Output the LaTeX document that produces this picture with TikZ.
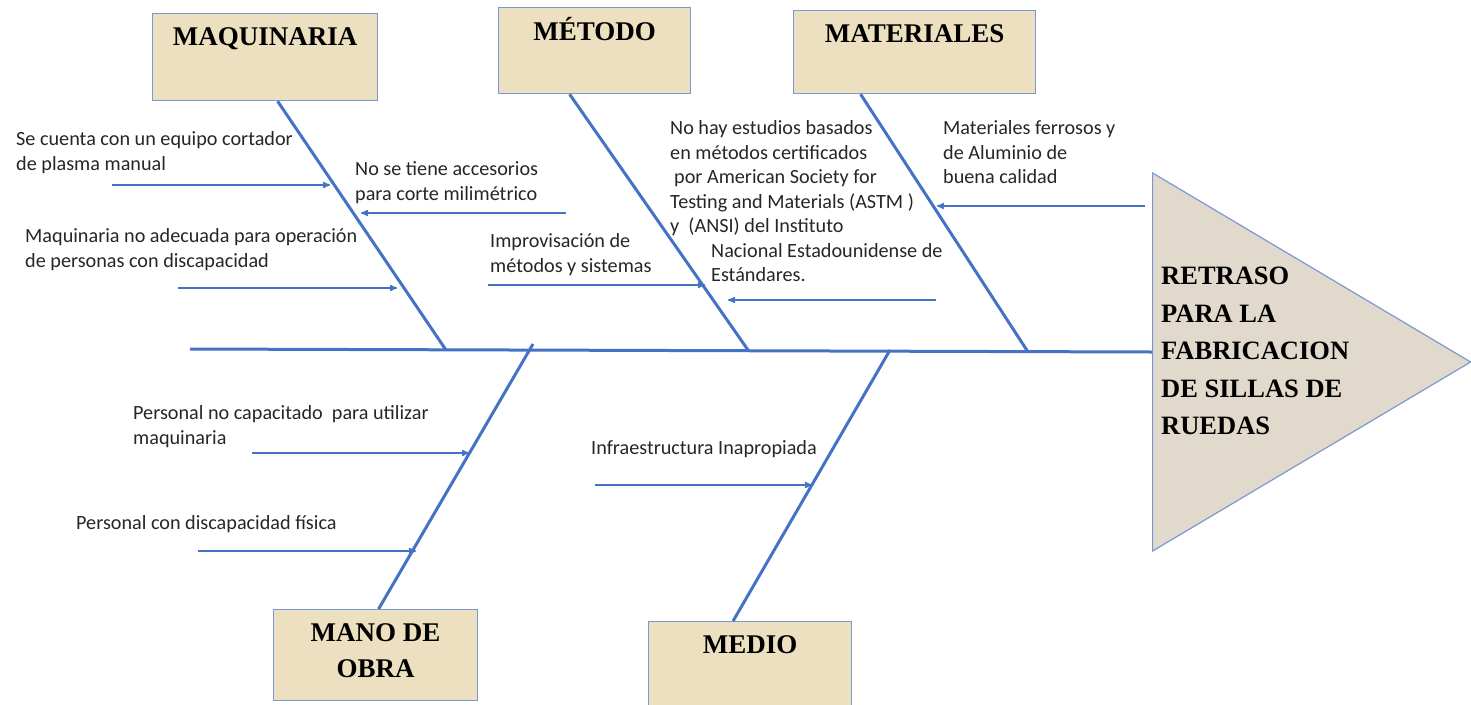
\documentclass[tikz,border=0pt]{standalone}
\usepackage{fontspec}
\setmainfont{Carlito}
\newfontfamily\catfont{Liberation Serif}
\usetikzlibrary{arrows, shapes.geometric}

\definecolor{bone}{RGB}{68,114,196}
\definecolor{frame}{RGB}{122,152,212}
\definecolor{parch}{RGB}{237,224,192}
\definecolor{stone}{RGB}{225,217,204}

\begin{document}
\begin{tikzpicture}[x=1pt,y=-1pt,>=stealth',
  cat box/.style={draw=frame,line width=1.2pt,fill=parch,anchor=north west,inner sep=0},
  cat text/.style={font=\catfont\bfseries\fontsize{27}{36}\selectfont,align=center,inner sep=0,anchor=north},
  cause/.style={font=\fontsize{20.2}{24.5}\selectfont,text=black!85,align=left,inner sep=0,anchor=north west},
  bone line/.style={draw=bone,line width=3pt},
  sub arrow/.style={->,color=bone,line width=1.5pt}]

  \path[use as bounding box] (0,0) rectangle (1471,704);

  % categories
  \node[cat box,minimum width=225,minimum height=87] (maq) at (152,13) {};
  \node[cat box,minimum width=192,minimum height=86] (met) at (498,7) {};
  \node[cat box,minimum width=242,minimum height=83] (mat) at (793,10) {};
  \node[cat box,minimum width=204,minimum height=91] (mano) at (273,609) {};
  \node[cat box,minimum width=203,minimum height=86] (med) at (648,621) {};

  \node[cat text] (maq-t) at ([yshift=-14]maq.north) {MAQUINARIA};
  \node[cat text] (met-t) at ([yshift=-10]met.north) {MÉTODO};
  \node[cat text] (mat-t) at ([yshift=-14]mat.north) {MATERIALES};
  \node[cat text] (mano-t) at ([yshift=-14]mano.north) {MANO DE\\OBRA};
  \node[cat text] (med-t) at ([yshift=-14]med.north) {MEDIO};

  % effect
  \node[isosceles triangle,isosceles triangle stretches,shape border rotate=0,
    minimum width=378,minimum height=318,inner sep=0,draw=frame,line width=1.2pt,
    fill=stone,anchor=west] (efecto) at (1152,362) {};
  \node[font=\catfont\bfseries\fontsize{26.5}{37.5}\selectfont,align=left,inner sep=0,
    anchor=west] (efecto-t) at ([xshift=9,yshift=11]efecto.west)
    {RETRASO\\PARA LA\\FABRICACION\\DE SILLAS DE\\RUEDAS};

  % spine and bones
  \coordinate (tail) at (190,349);
  \coordinate (j-maq) at (446,350);
  \coordinate (j-met) at (748,350);
  \coordinate (j-mat) at (1028,352);
  \coordinate (j-mano) at (533,344);
  \coordinate (j-med) at (890,350);

  \draw[bone line] (tail) -- ([yshift=10]efecto.west);
  \draw[bone line] ([xshift=12.5]maq.south) -- (j-maq);
  \draw[bone line] ([xshift=-25]met.south) -- (j-met);
  \draw[bone line] ([xshift=-54]mat.south) -- (j-mat);
  \draw[bone line] ([xshift=3]mano.north) -- (j-mano);
  \draw[bone line] ([xshift=-17]med.north) -- (j-med);

  % causes
  \node[cause] (c1) at (16,131.5) {Se cuenta con un equipo cortador\\de plasma manual};
  \node[cause] (c2) at (355,161.5) {No se tiene accesorios\\para corte milimétrico};
  \node[cause] (c3) at (25,228.5) {Maquinaria no adecuada para operación\\de personas con discapacidad};
  \node[cause] (c4) at (490,233.5) {Improvisación de\\métodos y sistemas};
  \node[cause] (c5) at (670,120.5) {No hay estudios basados\\en métodos certificados\\\hspace*{4pt}por American Society for\\Testing and Materials (ASTM~)\\y~~(ANSI) del Instituto\\\hspace*{41pt}Nacional Estadounidense de\\\hspace*{41pt}Estándares.};
  \node[cause] (c6) at (943,120.5) {Materiales ferrosos y\\de Aluminio de\\buena calidad};
  \node[cause] (c7) at (133,405.5) {Personal no capacitado~ para utilizar\\maquinaria};
  \node[cause] (c8) at (76,515.5) {Personal con discapacidad física};
  \node[cause] (c9) at (591,440.5) {Infraestructura Inapropiada};

  \coordinate (s1) at (112,185);  \coordinate (e1) at (330,185);
  \coordinate (s2) at (566,213);  \coordinate (e2) at (361,213);
  \coordinate (s3) at (178,288);  \coordinate (e3) at (397,288);
  \coordinate (s4) at (488,285);  \coordinate (e4) at (705,285);
  \coordinate (s5) at (936,300);  \coordinate (e5) at (728,300);
  \coordinate (s6) at (1145,206); \coordinate (e6) at (937,206);
  \coordinate (s7) at (252,453);  \coordinate (e7) at (469,453);
  \coordinate (s8) at (198,551);  \coordinate (e8) at (416,551);
  \coordinate (s9) at (595,485);  \coordinate (e9) at (812,485);

  \path[sub arrow]
    (s1) edge (e1)
    (s2) edge (e2)
    (s3) edge (e3)
    (s4) edge (e4)
    (s5) edge (e5)
    (s6) edge (e6)
    (s7) edge (e7)
    (s8) edge (e8)
    (s9) edge (e9);
\end{tikzpicture}
\end{document}
